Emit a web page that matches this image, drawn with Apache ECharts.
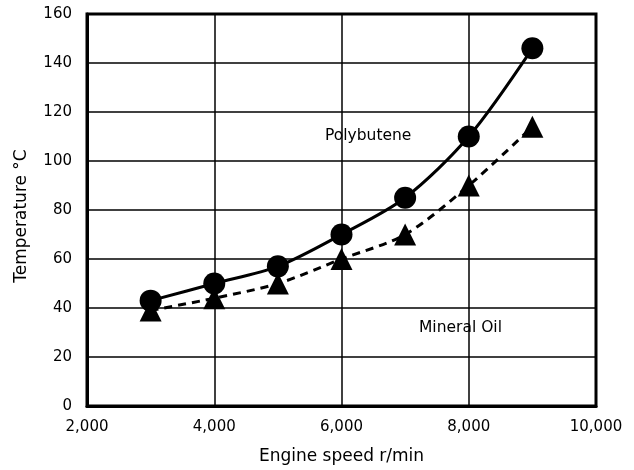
<!DOCTYPE html>
<html>
<head>
<meta charset="utf-8">
<script src="https://cdn.jsdelivr.net/npm/echarts@6/dist/echarts.min.js"></script>
<style>
  html, body { margin: 0; padding: 0; background: #fff; }
  #chart { width: 634px; height: 470px; }
</style>
</head>
<body>
<div id="chart"></div>
<script>
// Engine speed (r/min)
const speeds = [3000, 4000, 5000, 6000, 7000, 8000, 9000];
// Temperature (°C)
const polybutene = [43, 50, 57, 70, 85, 110, 146];
const mineralOil = [39, 44, 50, 60, 70, 90, 114];

const font = '"DejaVu Sans", "Noto Sans", sans-serif';

const chart = echarts.init(document.getElementById('chart'));

const pairs = (ys) => speeds.map((x, i) => [x, ys[i]]);

chart.setOption({
  animation: false,
  textStyle: { fontFamily: font, color: '#000' },
  grid: {
    left: 87, right: 38, top: 14, bottom: 63,
    show: true, borderColor: '#000', borderWidth: 3
  },
  xAxis: {
    type: 'value',
    min: 2000, max: 10000, interval: 2000,
    name: 'Engine speed r/min',
    nameLocation: 'middle',
    nameGap: 42,
    nameTextStyle: { fontSize: 17, color: '#000', fontFamily: font },
    axisLine: { show: true, lineStyle: { color: '#000', width: 3 } },
    axisTick: { show: false },
    axisLabel: {
      fontSize: 15, color: '#000', margin: 14, fontFamily: font,
      formatter: (v) => v.toLocaleString('en-US')
    },
    splitLine: { show: true, lineStyle: { color: '#000', width: 1.5 } }
  },
  yAxis: {
    type: 'value',
    min: 0, max: 160, interval: 20,
    name: 'Temperature °C',
    nameLocation: 'middle',
    nameGap: 57,
    nameTextStyle: { fontSize: 17, color: '#000', fontFamily: font, padding: [0, 12, 0, 0] },
    axisLine: { show: true, lineStyle: { color: '#000', width: 3 } },
    axisTick: { show: false },
    axisLabel: { fontSize: 15, color: '#000', margin: 15, fontFamily: font },
    splitLine: { show: true, lineStyle: { color: '#000', width: 1.5 } }
  },
  series: [
    {
      name: 'Mineral Oil',
      type: 'line',
      data: pairs(mineralOil),
      smooth: 0.3,
      symbol: 'triangle',
      symbolSize: 22,
      itemStyle: { color: '#000' },
      lineStyle: { color: '#000', width: 3, type: [8, 6] },
      z: 3
    },
    {
      name: 'Polybutene',
      type: 'line',
      data: pairs(polybutene),
      smooth: 0.3,
      symbol: 'circle',
      symbolSize: 22,
      itemStyle: { color: '#000' },
      lineStyle: { color: '#000', width: 3 },
      z: 4
    }
  ],
  graphic: [
    {
      type: 'text', left: 325, top: 128, z: 10,
      style: { text: 'Polybutene', fill: '#000', font: '15.5px ' + font }
    },
    {
      type: 'text', left: 419, top: 320, z: 10,
      style: { text: 'Mineral Oil', fill: '#000', font: '15.5px ' + font }
    }
  ]
});
</script>
</body>
</html>
